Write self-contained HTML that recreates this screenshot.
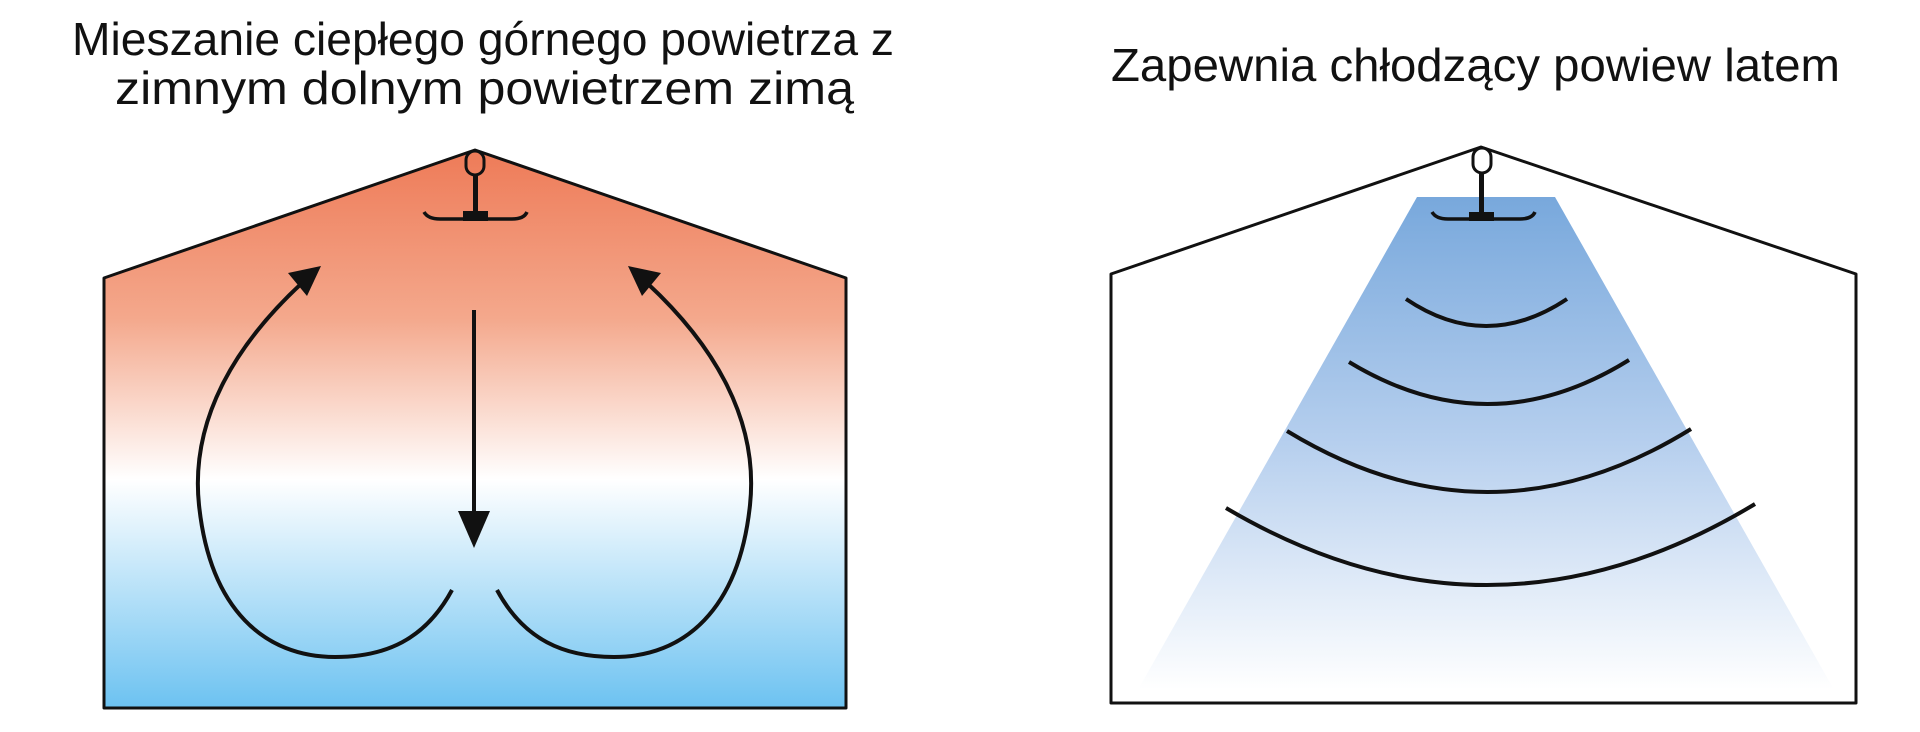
<!DOCTYPE html>
<html><head><meta charset="utf-8"><style>html,body{margin:0;padding:0;background:#fff}svg{display:block}</style></head>
<body>
<svg width="1920" height="732" viewBox="0 0 1920 732" xmlns="http://www.w3.org/2000/svg">
<defs>
<linearGradient id="warm" x1="0" y1="151" x2="0" y2="708" gradientUnits="userSpaceOnUse">
<stop offset="0" stop-color="#ee7b58"/>
<stop offset="0.3" stop-color="#f4a88c"/>
<stop offset="0.59" stop-color="#ffffff"/>
<stop offset="1" stop-color="#6cc2f1"/>
</linearGradient>
<linearGradient id="cool" x1="0" y1="197" x2="0" y2="690" gradientUnits="userSpaceOnUse">
<stop offset="0" stop-color="#78a8dc"/>
<stop offset="0.5" stop-color="#b6cfee"/>
<stop offset="1" stop-color="#ffffff"/>
</linearGradient>
</defs>

<g font-family="'Liberation Sans', sans-serif" font-size="46" fill="#111">
<text x="72" y="55" textLength="822" lengthAdjust="spacingAndGlyphs">Mieszanie ciepłego górnego powietrza z</text>
<text x="115" y="104" textLength="739" lengthAdjust="spacingAndGlyphs">zimnym dolnym powietrzem zimą</text>
<text x="1111" y="81" textLength="729" lengthAdjust="spacingAndGlyphs">Zapewnia chłodzący powiew latem</text>
</g>

<!-- Left house -->
<path d="M104,278 L475,150 L846,278 L846,708 L104,708 Z" fill="url(#warm)" stroke="#111" stroke-width="3" stroke-linejoin="round"/>
<rect x="466" y="151" width="18" height="24" rx="9" fill="none" stroke="#111" stroke-width="3"/>
<rect x="473" y="175" width="5" height="40" fill="#111"/>
<path d="M424,212 Q428,219 440,219 L512,219 Q524,219 527,212" fill="none" stroke="#111" stroke-width="3.5"/>
<rect x="463" y="211" width="25" height="10" fill="#111"/>
<line x1="474" y1="310" x2="474" y2="520" stroke="#111" stroke-width="4"/>
<path d="M458,511 L490,511 L474,548 Z" fill="#111"/>
<path d="M452,590 C425,640 385,657 335,657 C265,657 210,610 199,505 C190,420 235,345 302,283" fill="none" stroke="#111" stroke-width="4"/>
<path d="M321,266 L288,273 L307,296 Z" fill="#111"/>
<path d="M497,590 C524,640 564,657 614,657 C684,657 739,610 750,505 C759,420 714,345 647,283" fill="none" stroke="#111" stroke-width="4"/>
<path d="M628,266 L661,273 L642,296 Z" fill="#111"/>

<!-- Right house -->
<path d="M1417,197 L1555,197 L1833,688 L1139,688 Z" fill="url(#cool)"/>
<path d="M1111,274 L1481,147 L1856,274 L1856,703 L1111,703 Z" fill="none" stroke="#111" stroke-width="3" stroke-linejoin="round"/>
<rect x="1473" y="148" width="18" height="25" rx="9" fill="#fff" stroke="#111" stroke-width="3"/>
<rect x="1479" y="173" width="5" height="42" fill="#111"/>
<path d="M1432,212 Q1436,219 1448,219 L1520,219 Q1532,219 1535,212" fill="none" stroke="#111" stroke-width="3.5"/>
<rect x="1469" y="212" width="25" height="9" fill="#111"/>
<g fill="none" stroke="#111" stroke-width="4">
<path d="M1406,299 Q1486,353 1567,299"/>
<path d="M1349,362 Q1489,447 1629,360"/>
<path d="M1287,431 Q1489,554 1691,429"/>
<path d="M1226,508 Q1490,664 1755,504"/>
</g>
</svg>
</body></html>
